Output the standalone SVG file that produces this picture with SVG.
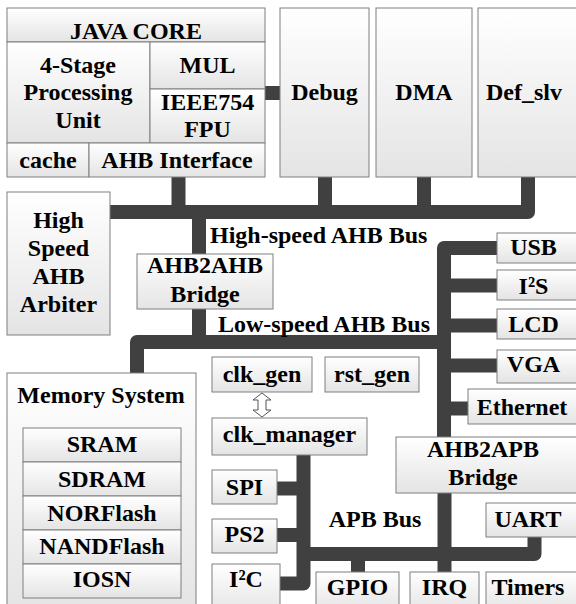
<svg xmlns="http://www.w3.org/2000/svg" width="576" height="604" viewBox="0 0 576 604">
<defs>
<linearGradient id="g" x1="0" y1="0" x2="0" y2="1">
<stop offset="0" stop-color="#ffffff"/>
<stop offset="1" stop-color="#e4e4e4"/>
</linearGradient>
<style>
.b{fill:url(#g);stroke:#7f7f7f;stroke-width:1}
text{font-weight:bold;font-size:24px;fill:#000;text-anchor:middle}
.c{fill:none;stroke:#404040;stroke-width:14;stroke-linejoin:round;stroke-linecap:butt}
</style>
</defs>
<rect width="576" height="604" fill="#ffffff"/>

<g id="connectors">
<path class="c" d="M265,93 H280"/>
<path class="c" d="M110,212 H528 V177"/>
<path class="c" d="M178.5,177 V212"/>
<path class="c" d="M325,177 V212"/>
<path class="c" d="M424,177 V212"/>
<path class="c" d="M199,212 V254"/>
<path class="c" d="M199,309 V342"/>
<path class="c" d="M137,373 V342 H444"/>
<path class="c" d="M497,248 H444 V437"/>
<path class="c" d="M444,285.5 H497"/>
<path class="c" d="M444,325.5 H497"/>
<path class="c" d="M444,365.5 H497"/>
<path class="c" d="M444,408.5 H468"/>
<path class="c" d="M444.5,493 V572"/>
<path class="c" d="M303.5,554 H534.5 V537"/>
<path class="c" d="M358,554 V572"/>
<path class="c" d="M303.5,455 V583.5 H280"/>
<path class="c" d="M277,488.5 H303.5"/>
<path class="c" d="M277,535 H303.5"/>
<polygon points="262,393 271,400 266,400 266,410 271,410 262,417 253,410 258,410 258,400 253,400" fill="#ffffff" stroke="#555555" stroke-width="1"/>
</g>

<g font-family="Liberation Serif, Times New Roman, serif">
<g id="java_core">
<rect class="b" x="7" y="8" width="258" height="34"/>
<text x="136" y="39">JAVA CORE</text>
</g>
<g id="processing_unit">
<rect class="b" x="7" y="42" width="143" height="101"/>
<text x="78" y="73">4-Stage</text>
<text x="78" y="100">Processing</text>
<text x="78" y="128">Unit</text>
</g>
<g id="mul">
<rect class="b" x="150" y="42" width="115" height="47"/>
<text x="207.5" y="73">MUL</text>
</g>
<g id="fpu">
<rect class="b" x="150" y="89" width="115" height="54"/>
<text x="207.5" y="110">IEEE754</text>
<text x="207.5" y="137">FPU</text>
</g>
<g id="cache">
<rect class="b" x="7" y="143" width="82" height="34"/>
<text x="48" y="168">cache</text>
</g>
<g id="ahb_interface">
<rect class="b" x="89" y="143" width="176" height="34"/>
<text x="177" y="168">AHB Interface</text>
</g>

<g id="debug">
<rect class="b" x="280" y="8" width="89" height="169"/>
<text x="324.5" y="100">Debug</text>
</g>
<g id="dma">
<rect class="b" x="376" y="8" width="96" height="169"/>
<text x="424" y="100">DMA</text>
</g>
<g id="def_slv">
<rect class="b" x="478" y="8" width="102" height="169"/>
<text x="524" y="100">Def_slv</text>
</g>

<g id="arbiter">
<rect class="b" x="7" y="192" width="103" height="143"/>
<text x="58.5" y="228">High</text>
<text x="58.5" y="256">Speed</text>
<text x="58.5" y="284">AHB</text>
<text x="58.5" y="312">Arbiter</text>
</g>

<g id="ahb2ahb">
<rect class="b" x="137" y="254" width="136" height="55"/>
<text x="205" y="273">AHB2AHB</text>
<text x="205" y="302">Bridge</text>
</g>

<g id="bus_labels">
<text x="210" y="243" text-anchor="start" style="text-anchor:start">High-speed AHB Bus</text>
<text x="218" y="332" text-anchor="start" style="text-anchor:start">Low-speed AHB Bus</text>
<text x="375" y="527">APB Bus</text>
</g>

<g id="usb">
<rect class="b" x="497" y="233" width="83" height="30"/>
<text x="533.5" y="255">USB</text>
</g>
<g id="i2s">
<rect class="b" x="497" y="270" width="83" height="30"/>
<text x="533.5" y="294">I²S</text>
</g>
<g id="lcd">
<rect class="b" x="497" y="309" width="83" height="30"/>
<text x="533.5" y="332">LCD</text>
</g>
<g id="vga">
<rect class="b" x="497" y="350" width="83" height="33"/>
<text x="533.5" y="372">VGA</text>
</g>
<g id="ethernet">
<rect class="b" x="468" y="389" width="112" height="35"/>
<text x="522" y="415">Ethernet</text>
</g>

<g id="clk_gen">
<rect class="b" x="212" y="357" width="100" height="35"/>
<text x="262" y="382">clk_gen</text>
</g>
<g id="rst_gen">
<rect class="b" x="325" y="357" width="94" height="35"/>
<text x="372" y="382">rst_gen</text>
</g>
<g id="clk_manager">
<rect class="b" x="212" y="418" width="155" height="37"/>
<text x="289.5" y="442">clk_manager</text>
</g>

<g id="memory_system">
<rect class="b" x="7" y="373" width="189" height="240"/>
<text x="101" y="403">Memory System</text>
<g id="sram"><rect class="b" x="23" y="428" width="158" height="34"/><text x="102" y="452">SRAM</text></g>
<g id="sdram"><rect class="b" x="23" y="462" width="158" height="34"/><text x="102" y="487">SDRAM</text></g>
<g id="norflash"><rect class="b" x="23" y="496" width="158" height="34"/><text x="102" y="521">NORFlash</text></g>
<g id="nandflash"><rect class="b" x="23" y="530" width="158" height="34"/><text x="102" y="554">NANDFlash</text></g>
<g id="iosn"><rect class="b" x="23" y="564" width="158" height="34"/><text x="102" y="587">IOSN</text></g>
</g>

<g id="spi">
<rect class="b" x="212" y="470" width="65" height="34"/>
<text x="244.5" y="495">SPI</text>
</g>
<g id="ps2">
<rect class="b" x="212" y="519" width="65" height="34"/>
<text x="244.5" y="542">PS2</text>
</g>
<g id="i2c">
<rect class="b" x="212" y="564" width="68" height="50"/>
<text x="246" y="587">I²C</text>
</g>

<g id="ahb2apb">
<rect class="b" x="396" y="437" width="184" height="56"/>
<text x="483" y="457">AHB2APB</text>
<text x="483" y="485">Bridge</text>
</g>
<g id="uart">
<rect class="b" x="486" y="503" width="94" height="34"/>
<text x="528" y="527">UART</text>
</g>
<g id="gpio">
<rect class="b" x="316" y="572" width="83" height="40"/>
<text x="357.5" y="595">GPIO</text>
</g>
<g id="irq">
<rect class="b" x="410" y="572" width="69" height="40"/>
<text x="444.5" y="595">IRQ</text>
</g>
<g id="timers">
<rect class="b" x="486" y="572" width="94" height="40"/>
<text x="528" y="595">Timers</text>
</g>
</g>
</svg>
